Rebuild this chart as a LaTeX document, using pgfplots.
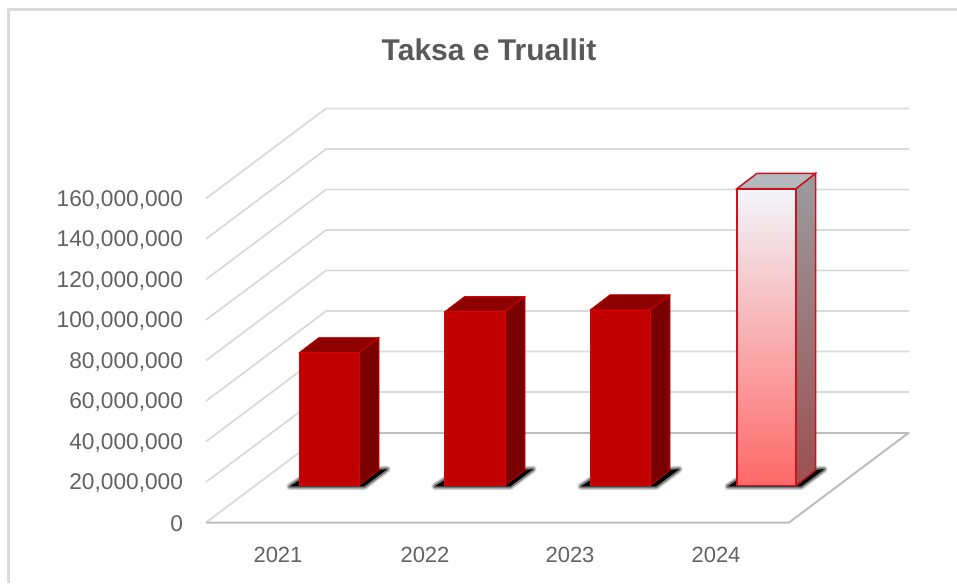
\documentclass[border=0pt]{standalone}
\usepackage{pgfplots}
\pgfplotsset{compat=1.18}
\usepackage{fontspec}
\setmainfont{Liberation Sans}
\definecolor{gridc}{HTML}{DADADA}
\definecolor{floorc}{HTML}{BDBDBD}
\definecolor{labc}{HTML}{626262}
\definecolor{titc}{HTML}{595959}
\definecolor{facec}{HTML}{C00000}
\definecolor{sidec}{HTML}{7A0000}
\definecolor{topc}{HTML}{8E0000}
\definecolor{edgec}{HTML}{E00000}
\definecolor{edgeb}{HTML}{C8141E}
\definecolor{sidetop}{HTML}{9A9C9E}
\definecolor{sidebot}{HTML}{9C4F50}
\definecolor{topb}{HTML}{B4BABF}
\definecolor{facetop}{HTML}{F2F6FB}
\definecolor{facemid}{HTML}{FFB0B3}
\definecolor{facebot}{HTML}{FF6868}
\newcommand{\gridl}[2]{\addplot[gridc,line width=1.8pt] coordinates {(206,#1)(326,#2)(909,#2)};}
\newcommand{\shadowpoly}[4]{%
  \addplot[draw=black,fill=black,line width=7pt,line join=round,draw opacity=.2,fill opacity=.2] coordinates {#1 #2 #3 #4} --cycle;
  \addplot[draw=black,fill=black,line width=4pt,line join=round,draw opacity=.4,fill opacity=.4] coordinates {#1 #2 #3 #4} --cycle;
  \addplot[draw=none,fill=black] coordinates {#1 #2 #3 #4} --cycle;}
\begin{document}
\begin{tikzpicture}[x=1pt,y=1pt]
\useasboundingbox (0,0) rectangle (957,583);
\draw[gridc,line width=3pt] (8.5,0) -- (8.5,573) -- (957,573);
\node[text=titc,font=\fontsize{30}{35}\selectfont\bfseries] at (489,533.5) {Taksa e Truallit};
\begin{axis}[
  at={(206pt,60.5pt)},anchor=south west,
  scale only axis,width=703pt,height=415pt,
  xmin=206,xmax=909,ymin=0,ymax=204938272,
  clip=false,axis line style={draw=none},
  major tick length=0pt,
  scaled y ticks=false,
  xtick={278,425,570,716},
  xticklabels={2021,2022,2023,2024},
  ytick={0,20000000,40000000,60000000,80000000,100000000,120000000,140000000,160000000},
  /pgf/number format/.cd,fixed,1000 sep={,},assume math mode=true,
  /pgfplots/.cd,
  yticklabel style={font=\fontsize{22.7}{26}\selectfont,text=labc,anchor=east,xshift=-19.5pt,yshift=-1.2pt},
  xticklabel style={font=\fontsize{22}{25}\selectfont,text=labc,anchor=center,yshift=-32pt},
]
% side wall and back wall
\gridl{20000000}{64440000}
\gridl{40000000}{84440000}
\gridl{60000000}{104440000}
\gridl{80000000}{124440000}
\gridl{100000000}{144440000}
\gridl{120000000}{164440000}
\gridl{140000000}{184440000}
\gridl{160000000}{204440000}
% floor
\addplot[gridc,line width=1.8pt] coordinates {(206,0)(326,44440000)};
\addplot[floorc,line width=2pt] coordinates {(326,44440000)(909,44440000)};
\addplot[floorc,line width=2pt] coordinates {(206,0)(789,0)(909,44440000)};
% shadows
\shadowpoly{(290,17800000)}{(306,23000000)}{(387,26300000)}{(364,17800000)}
\shadowpoly{(435,17800000)}{(451,23000000)}{(533,26300000)}{(510,17800000)}
\shadowpoly{(581,17800000)}{(597,23000000)}{(679,26300000)}{(656,17800000)}
\shadowpoly{(728,17800000)}{(744,23000000)}{(824,26300000)}{(801,17800000)}
% 2021
\addplot[fill=sidec,draw=edgec,line width=.6pt,yshift=37pt] coordinates {(359,0)(379,7550000)(379,73150000)(359,65600000)} --cycle;
\addplot[fill=topc,draw=edgec,line width=.6pt,yshift=37pt] coordinates {(299,65600000)(359,65600000)(379,73150000)(319,73150000)} --cycle;
\addplot[fill=facec,draw=edgec,line width=.6pt,yshift=37pt] coordinates {(299,0)(359,0)(359,65600000)(299,65600000)} --cycle;
% 2022
\addplot[fill=sidec,draw=edgec,line width=.6pt,yshift=37pt] coordinates {(505,0)(525,7550000)(525,93350000)(505,85800000)} --cycle;
\addplot[fill=topc,draw=edgec,line width=.6pt,yshift=37pt] coordinates {(444.5,85800000)(505,85800000)(525,93350000)(464.5,93350000)} --cycle;
\addplot[fill=facec,draw=edgec,line width=.6pt,yshift=37pt] coordinates {(444.5,0)(505,0)(505,85800000)(444.5,85800000)} --cycle;
% 2023
\addplot[fill=sidec,draw=edgec,line width=.6pt,yshift=37pt] coordinates {(650.5,0)(670,7550000)(670,94250000)(650.5,86700000)} --cycle;
\addplot[fill=topc,draw=edgec,line width=.6pt,yshift=37pt] coordinates {(590,86700000)(650.5,86700000)(670,94250000)(610,94250000)} --cycle;
\addplot[fill=facec,draw=edgec,line width=.6pt,yshift=37pt] coordinates {(590,0)(650.5,0)(650.5,86700000)(590,86700000)} --cycle;
% 2024
\addplot[shade,top color=sidetop,bottom color=sidebot,draw=edgeb,line width=1.5pt,yshift=37pt] coordinates {(796,0)(815.5,7550000)(815.5,154150000)(796,146600000)} --cycle;
\addplot[fill=topb,draw=edgeb,line width=1.5pt,yshift=37pt] coordinates {(737,146600000)(796,146600000)(815.5,154150000)(757,154150000)} --cycle;
\addplot[shade,top color=facetop,middle color=facemid,bottom color=facebot,draw=edgeb,line width=1.8pt,yshift=37pt] coordinates {(737,0)(796,0)(796,146600000)(737,146600000)} --cycle;
\end{axis}
\end{tikzpicture}
\end{document}
